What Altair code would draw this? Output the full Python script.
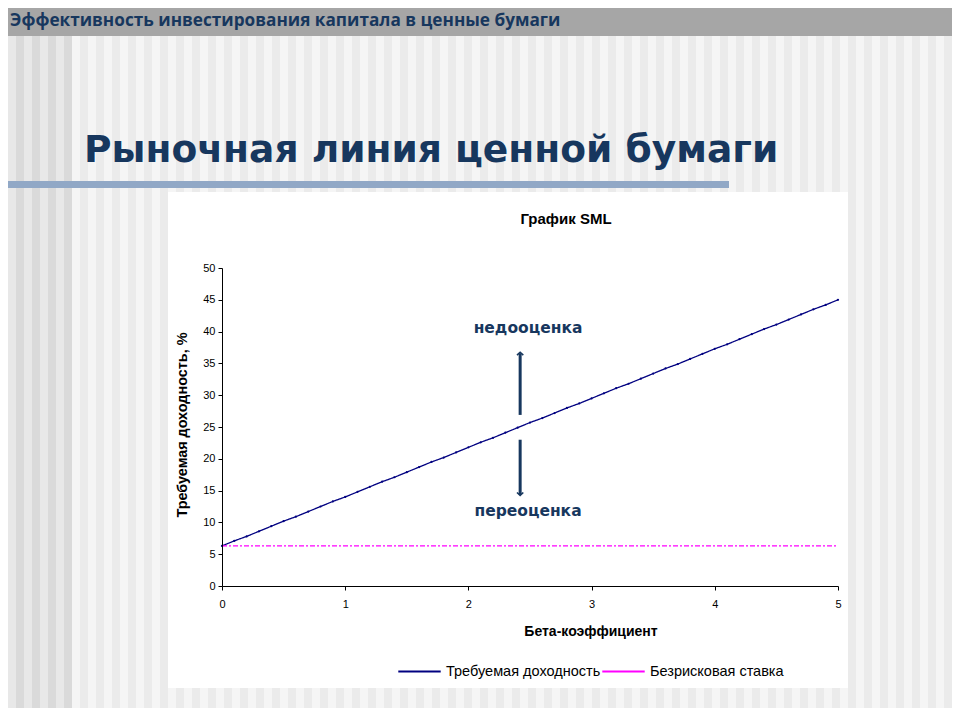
import altair as alt
import pandas as pd

# ---- data ----
beta = [0.0, 0.1, 0.2, 0.3, 0.4, 0.5, 0.6, 0.7, 0.8, 0.9,
        1.0, 1.1, 1.2, 1.3, 1.4, 1.5, 1.6, 1.7, 1.8, 1.9,
        2.0, 2.1, 2.2, 2.3, 2.4, 2.5, 2.6, 2.7, 2.8, 2.9,
        3.0, 3.1, 3.2, 3.3, 3.4, 3.5, 3.6, 3.7, 3.8, 3.9,
        4.0, 4.1, 4.2, 4.3, 4.4, 4.5, 4.6, 4.7, 4.8, 4.9, 5.0]
required_return = [6.3, 7.1, 7.8, 8.6, 9.4, 10.2, 10.9, 11.7, 12.5, 13.3,
                   14.0, 14.8, 15.6, 16.4, 17.1, 17.9, 18.7, 19.5, 20.2, 21.0,
                   21.8, 22.6, 23.3, 24.1, 24.9, 25.7, 26.4, 27.2, 28.0, 28.7,
                   29.5, 30.3, 31.1, 31.8, 32.6, 33.4, 34.2, 34.9, 35.7, 36.5,
                   37.3, 38.0, 38.8, 39.6, 40.4, 41.1, 41.9, 42.7, 43.5, 44.2, 45.0]
rf_beta = [0.0, 5.0]
rf_value = [6.3, 6.3]
series_names = ["Требуемая доходность", "Безрисковая ставка"]
series_colors = ["#000080", "#ff00ff"]
x_ticks = [0, 1, 2, 3, 4, 5]
y_ticks = [0, 5, 10, 15, 20, 25, 30, 35, 40, 45, 50]

header_text = "Эффективность инвестирования капитала в ценные бумаги"
slide_title = "Рыночная линия ценной бумаги"
chart_title = "График SML"
x_title = "Бета-коэффициент"
y_title = "Требуемая доходность, %"
note_up = "недооценка"
note_down = "переоценка"

# arrows (beta, value)
arrow_x = 2.42
arrow_up = [26.9, 36.6]
arrow_down = [23.0, 14.4]

NAVY = "#17375e"

lines_df = pd.DataFrame({
    "beta": beta + rf_beta,
    "value": required_return + rf_value,
    "series": [series_names[0]] * len(beta) + [series_names[1]] * len(rf_beta),
})
one = alt.Data(values=[{"k": 0}])

# ---- slide decorations ----
stripes = alt.Chart(alt.sequence(1, 119, as_="i")).transform_calculate(
    x0="datum.i*8-222", x1="datum.i*8-214",
    c="datum.i < 9 ? (datum.i % 2 == 0 ? '#dadada' : '#e8e8e8') : (datum.i % 2 == 0 ? '#ebebeb' : '#f5f5f5')"
).mark_rect().encode(
    x=alt.X("x0:Q", scale=None, axis=None),
    x2="x1:Q",
    y=alt.value(-268), y2=alt.value(440),
    color=alt.Color("c:N", scale=None),
)

top_bar = alt.Chart(one).mark_rect(color="#a6a6a6").encode(
    x=alt.value(-222), x2=alt.value(740), y=alt.value(-268), y2=alt.value(-232))
header = alt.Chart(one).mark_text(
    text=header_text, font="Open Sans", fontWeight="bold", fontSize=17.2,
    color=NAVY, align="left", baseline="alphabetic").encode(
    x=alt.value(-212), y=alt.value(-242))
title = alt.Chart(one).mark_text(
    text=slide_title, font="DejaVu Sans", fontWeight="bold", fontSize=37.6,
    color=NAVY, align="left", baseline="alphabetic").encode(
    x=alt.value(-138), y=alt.value(-106))
blue_bar = alt.Chart(one).mark_rect(color="#91a8c6").encode(
    x=alt.value(-222), x2=alt.value(507), y=alt.value(-87), y2=alt.value(-80))
panel = alt.Chart(one).mark_rect(color="#ffffff").encode(
    x=alt.value(-54), x2=alt.value(626), y=alt.value(-76), y2=alt.value(420))

ctitle = alt.Chart(one).mark_text(
    text=chart_title, fontWeight="bold", fontSize=15, color="#000000",
    align="center", baseline="alphabetic").encode(x=alt.value(344), y=alt.value(-44))
ytitle = alt.Chart(one).mark_text(
    text=y_title, fontWeight="bold", fontSize=14.4, color="#000000", angle=270,
    align="center", baseline="middle").encode(x=alt.value(-39), y=alt.value(157))
xtitle = alt.Chart(one).mark_text(
    text=x_title, fontWeight="bold", fontSize=14, color="#000000",
    align="center", baseline="middle").encode(x=alt.value(369), y=alt.value(364))

decor = alt.layer(stripes, top_bar, header, title, blue_bar, panel, ctitle, ytitle, xtitle)

# ---- data layers (shared scales and axes) ----
xs = alt.Scale(domain=[0, 5], nice=False, zero=False)
ys = alt.Scale(domain=[0, 50], nice=False)
x_axis = alt.Axis(values=x_ticks, format="d", title=None, grid=False, tickSize=4, labelPadding=8,
                  labelFlush=False, domainColor="#000000", tickColor="#000000", labelColor="#000000",
                  labelFontSize=11, zindex=1)
y_axis = alt.Axis(values=y_ticks, format="d", title=None, grid=False, tickSize=4, labelPadding=3,
                  labelFlush=False, domainColor="#000000", tickColor="#000000", labelColor="#000000",
                  labelFontSize=11, zindex=1)

lines = alt.Chart(lines_df).mark_line(strokeWidth=1.3).encode(
    x=alt.X("beta:Q", scale=xs, axis=x_axis),
    y=alt.Y("value:Q", scale=ys, axis=y_axis),
    color=alt.Color("series:N", scale=alt.Scale(domain=series_names, range=series_colors),
                    legend=alt.Legend(
                        title=None, orient="none", legendX=175, legendY=381,
                        direction="horizontal", symbolType="stroke", symbolSize=1800,
                        symbolStrokeWidth=2, labelFontSize=14.5, labelColor="#000000",
                        labelOffset=4, columnPadding=-10, zindex=1)),
    strokeDash=alt.StrokeDash("series:N", scale=alt.Scale(domain=series_names, range=[[1, 0], [5, 2, 2, 2]]),
                              legend=None),
)

dots = alt.Chart(pd.DataFrame({"beta": beta, "value": required_return})).mark_point(
    filled=True, size=5, color="#000080", opacity=1).encode(
    x=alt.X("beta:Q", scale=xs, axis=x_axis), y=alt.Y("value:Q", scale=ys, axis=y_axis))


def dx(v):
    return alt.X(datum=v, type="quantitative", scale=xs, axis=x_axis)


def dy(v):
    return alt.Y(datum=v, type="quantitative", scale=ys, axis=y_axis)


shaft_up = alt.Chart(one).mark_rule(color=NAVY, strokeWidth=3).encode(
    x=dx(arrow_x), y=dy(arrow_up[0]), y2=alt.datum(arrow_up[1]))
shaft_dn = alt.Chart(one).mark_rule(color=NAVY, strokeWidth=3).encode(
    x=dx(arrow_x), y=dy(arrow_down[0]), y2=alt.datum(arrow_down[1]))
head_up = alt.Chart(one).mark_point(
    shape="M-1,0.9L0,0L1,0.9", size=40, filled=False, color=NAVY, strokeWidth=1.6, opacity=1).encode(
    x=dx(arrow_x), y=dy(arrow_up[1] + 0.15))
head_dn = alt.Chart(one).mark_point(
    shape="M-1,-0.9L0,0L1,-0.9", size=40, filled=False, color=NAVY, strokeWidth=1.6, opacity=1).encode(
    x=dx(arrow_x), y=dy(arrow_down[1] - 0.15))
txt_up = alt.Chart(one).mark_text(
    text=note_up, font="DejaVu Sans", fontWeight="bold", fontSize=15.5, color=NAVY,
    align="center", baseline="alphabetic").encode(x=alt.value(306), y=alt.value(65))
txt_dn = alt.Chart(one).mark_text(
    text=note_down, font="DejaVu Sans", fontWeight="bold", fontSize=15.5, color=NAVY,
    align="center", baseline="alphabetic").encode(x=alt.value(306), y=alt.value(248))

plot = alt.layer(lines, dots, shaft_up, shaft_dn, head_up, head_dn, txt_up, txt_dn)

chart = alt.layer(decor, plot).resolve_scale(
    x="independent", y="independent", color="independent"
).properties(
    width=616, height=318,
    padding={"left": 214, "top": 260, "right": 114, "bottom": 122},
    autosize=alt.AutoSizeParams(type="none"),
    background="#f5f5f5",
).configure(font="Liberation Sans").configure_view(stroke=None)

chart.save("out.html", embed_options={"renderer": "svg", "actions": False})
